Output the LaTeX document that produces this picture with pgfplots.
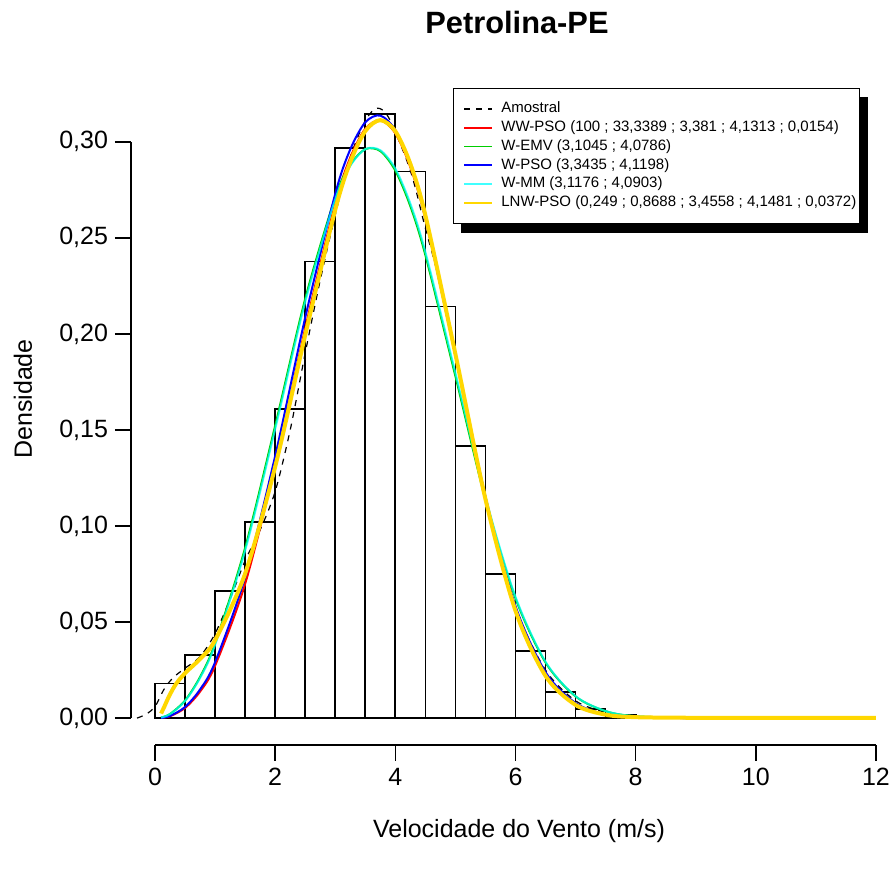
\documentclass[border=0pt]{standalone}
\usepackage{pgfplots}
\pgfplotsset{compat=1.18}
\usepackage{fontspec}
\setmainfont{Liberation Sans}
\usetikzlibrary{backgrounds}
\definecolor{rgreen}{RGB}{0,205,0}
\definecolor{rgold}{RGB}{255,215,0}
\definecolor{rcyan}{RGB}{0,255,255}
\begin{document}
\begin{tikzpicture}
\useasboundingbox (0,0) rectangle (445.5pt,435.5pt);
\begin{axis}[
  at={(65.5pt,63pt)}, anchor=south west,
  scale only axis, width=384.5pt, height=340pt,
  xmin=-0.4, xmax=12.4, ymin=-0.014, ymax=0.34,
  axis x line*=bottom, axis y line*=left,
  axis line style={draw=none},
  clip=false,
  xtick={0,2,4,6,8,10,12},
  ytick={0,0.05,0.1,0.15,0.2,0.25,0.3},
  tick align=outside, major tick length=8pt,
  tick style={black, line width=0.7pt},
  /pgf/number format/assume math mode=true,
  ticklabel style={font=\fontsize{12.5}{15}\selectfont},
  yticklabel style={/pgf/number format/.cd, fixed, fixed zerofill, precision=2, use comma, assume math mode=true},
  xticklabel style={/pgf/number format/.cd, fixed, precision=0, assume math mode=true},
  legend image code/.code={\path (0pt,0pt); \draw[#1, line width=0.9pt] (3pt,0pt) -- (17pt,0pt);},
  legend cell align=left,
  legend style={
    name=leg,
    at={(0.4187,0.9662)}, anchor=north west,
    draw=black, line width=0.5pt, fill=white,
    font=\fontsize{7.5}{9}\selectfont,
    inner xsep=1.5pt, inner ysep=6.5pt,
    row sep=2pt, column sep=4pt,
    nodes={inner sep=0pt, text height=5.6pt, text depth=1.8pt},
  },
]
% axis lines (R style)
\draw[line width=0.7pt] (axis cs:-0.4,0) -- (axis cs:-0.4,0.3);
\draw[line width=0.7pt] (axis cs:0,-0.014) -- (axis cs:12,-0.014);

% histogram
\addplot[ybar interval, draw=black, line width=0.85pt, fill=none, forget plot] coordinates {
(0,0.018) (0.5,0.0328) (1,0.0663) (1.5,0.102) (2,0.1608) (2.5,0.2377) (3,0.2967) (3.5,0.3146)
(4,0.2845) (4.5,0.2142) (5,0.1415) (5.5,0.075) (6,0.0351) (6.5,0.0135) (7,0.0048) (7.5,0.0015) (8,0)
};

% Amostral (kernel density)
\addplot[black, line width=0.6pt, dash pattern=on 3pt off 3pt, smooth, no markers] coordinates {
(-0.3,0) (-0.15,0.002) (0,0.006) (0.15,0.015) (0.3,0.021) (0.5,0.026) (0.75,0.032) (1,0.044)
(1.25,0.062) (1.5,0.082) (1.75,0.098) (2,0.118) (2.25,0.150) (2.5,0.190) (2.75,0.228) (3,0.262)
(3.25,0.292) (3.5,0.311) (3.7,0.3175) (3.9,0.312) (4.25,0.285) (4.5,0.255) (4.75,0.226) (5,0.190)
(5.5,0.115) (6,0.058) (6.5,0.025) (7,0.009) (7.5,0.003) (8,0.0008) (8.3,0)
};
\addlegendentry{Amostral}

% WW-PSO
\addplot[red, line width=1pt, smooth, no markers] coordinates {
(0.1,0.0001) (0.25,0.00101) (0.5,0.00528) (0.75,0.01382) (1,0.02727) (1.5,0.06990) (2,0.13143)
(2.5,0.20293) (3,0.26800) (3.25,0.29184) (3.5,0.30679) (3.75,0.31121) (4,0.30441) (4.25,0.28679)
(4.5,0.25988) (5,0.18863) (5.5,0.11464) (6,0.05734) (6.5,0.02315) (7,0.00739) (7.5,0.00183)
(8,0.00034) (9,0.00001) (10,0) (12,0)
};
\addlegendentry{WW-PSO (100 ; 33,3389 ; 3,381 ; 4,1313 ; 0,0154)}

% W-EMV
\addplot[rgreen, line width=1pt, smooth, no markers] coordinates {
(0.1,0.0003) (0.25,0.00214) (0.5,0.00917) (0.75,0.02145) (1,0.03901) (1.5,0.08867) (2,0.15228)
(2.5,0.21832) (3,0.27126) (3.25,0.28796) (3.5,0.29618) (3.75,0.29519) (4,0.28501) (4.25,0.26644)
(4.5,0.24101) (5,0.17795) (5.5,0.11376) (6,0.06234) (6.5,0.02895) (7,0.01128) (7.5,0.00363)
(8,0.00096) (9,0.00003) (10,0) (12,0)
};
\addlegendentry{W-EMV (3,1045 ; 4,0786)}

% W-PSO
\addplot[blue, line width=1pt, smooth, no markers] coordinates {
(0.1,0.0001) (0.25,0.00114) (0.5,0.00579) (0.75,0.01493) (1,0.02914) (1.5,0.07349) (2,0.13648)
(2.5,0.20854) (3,0.27297) (3.25,0.29610) (3.5,0.31017) (3.75,0.31368) (4,0.30606) (4.25,0.28780)
(4.5,0.26048) (5,0.18908) (5.5,0.11541) (6,0.05827) (6.5,0.02391) (7,0.00782) (7.5,0.00200)
(8,0.00039) (9,0.00001) (10,0) (12,0)
};
\addlegendentry{W-PSO (3,3435 ; 4,1198)}

% W-MM
\addplot[rcyan, draw opacity=0.75, line width=1pt, smooth, no markers,
  legend image code/.code={\path (0pt,0pt); \draw[rcyan, line width=0.9pt] (3pt,0pt) -- (17pt,0pt);}] coordinates {
(0.1,0.0003) (0.25,0.00205) (0.5,0.00888) (0.75,0.02089) (1,0.03813) (1.5,0.08719) (2,0.15045)
(2.5,0.21662) (3,0.27015) (3.25,0.28743) (3.5,0.29619) (3.75,0.29562) (4,0.28605) (4.25,0.26786)
(4.5,0.24267) (5,0.17968) (5.5,0.11511) (6,0.06316) (6.5,0.02935) (7,0.01141) (7.5,0.00367)
(8,0.00096) (9,0.00004) (10,0) (12,0)
};
\addlegendentry{W-MM (3,1176 ; 4,0903)}

% LNW-PSO
\addplot[rgold, line width=2pt, smooth, no markers] coordinates {
(0.1,0.00238) (0.15,0.00562) (0.2,0.00914) (0.25,0.01243) (0.35,0.01781) (0.5,0.02342) (0.75,0.03081)
(1,0.04059) (1.5,0.07524) (2,0.13089) (2.5,0.19947) (3,0.26469) (3.25,0.28946) (3.5,0.30562)
(3.75,0.31128) (4,0.30551) (4.25,0.28852) (4.5,0.26174) (5,0.18946) (5.5,0.11397) (6,0.05590)
(6.5,0.02197) (7,0.00687) (7.5,0.00178) (8,0.00048) (9,0.00015) (10,0.00011) (11,0.00008) (12,0.00005)
};
\addlegendentry{LNW-PSO (0,249 ; 0,8688 ; 3,4558 ; 4,1481 ; 0,0372)}
\end{axis}
% legend shadow (R style)
\begin{pgfonlayer}{background}
\fill[black] ([shift={(4pt,-4.5pt)}]leg.south west) rectangle ([shift={(4pt,-4.5pt)}]leg.north east);
\end{pgfonlayer}
% title and axis labels
\node[anchor=base, font=\bfseries\fontsize{15.4}{18}\selectfont] at (258.5pt,418.5pt) {Petrolina-PE};
\node[anchor=base, font=\fontsize{12.5}{15}\selectfont] at (259.5pt,16.5pt) {Velocidade do Vento (m/s)};
\node[anchor=base, rotate=90, font=\fontsize{12.5}{15}\selectfont] at (16pt,236pt) {Densidade};
\end{tikzpicture}
\end{document}
